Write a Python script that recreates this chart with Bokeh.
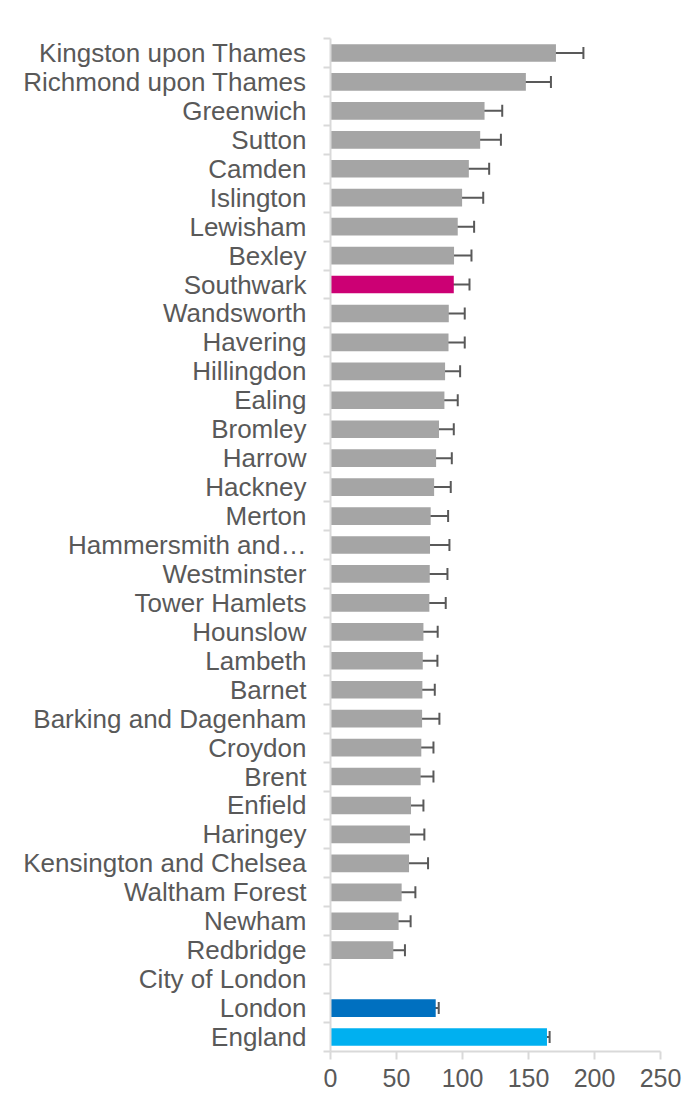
from bokeh.plotting import figure
from bokeh.models import Range1d, FixedTicker, Whisker, ColumnDataSource, TeeHead
from bokeh.embed import file_html
from bokeh.resources import INLINE

NAN = float("nan")

areas = [
    "Kingston upon Thames", "Richmond upon Thames", "Greenwich", "Sutton", "Camden",
    "Islington", "Lewisham", "Bexley", "Southwark", "Wandsworth", "Havering",
    "Hillingdon", "Ealing", "Bromley", "Harrow", "Hackney", "Merton",
    "Hammersmith and\u2026", "Westminster", "Tower Hamlets", "Hounslow", "Lambeth",
    "Barnet", "Barking and Dagenham", "Croydon", "Brent", "Enfield", "Haringey",
    "Kensington and Chelsea", "Waltham Forest", "Newham", "Redbridge",
    "City of London", "London", "England",
]
values = [
    170.8, 148.0, 116.7, 113.4, 104.8, 99.7, 96.4, 93.6, 93.4, 89.6, 89.4,
    86.8, 86.3, 82.2, 80.0, 78.5, 75.9, 75.4, 75.2, 74.9, 70.4, 69.9,
    69.6, 69.4, 68.8, 68.3, 61.0, 60.2, 59.5, 53.9, 51.6, 47.6,
    NAN, 79.7, 164.0,
]
ci_low = [
    152.0, 130.9, 104.3, 99.2, 91.4, 85.8, 85.3, 81.7, 82.0, 78.5, 78.0,
    76.2, 76.9, 72.4, 69.6, 67.0, 64.5, 62.5, 63.0, 63.8, 60.5, 60.0,
    61.2, 57.7, 60.7, 59.7, 53.2, 50.6, 47.1, 45.0, 43.8, 40.0,
    NAN, 78.0, 162.3,
]
ci_high = [
    191.6, 167.0, 130.1, 129.1, 120.2, 115.7, 108.8, 106.8, 105.3, 101.7, 101.7,
    98.2, 96.4, 93.4, 91.9, 91.1, 89.1, 90.1, 88.6, 87.3, 81.2, 81.0,
    79.0, 82.5, 78.0, 78.0, 70.4, 71.1, 73.9, 64.3, 60.7, 56.4,
    NAN, 82.0, 166.0,
]
highlight = {"Southwark": "#CC0074", "London": "#0070C0", "England": "#00B0F0"}
base_color = "#A5A5A5"
xticks = [0, 50, 100, 150, 200, 250]

n = len(areas)
ypos = [n - 1 - i for i in range(n)]
colors = [highlight.get(a, base_color) for a in areas]

src = ColumnDataSource(dict(y=ypos, v=values, c=colors))
keep = [i for i in range(n) if ci_low[i] == ci_low[i]]
err_src = ColumnDataSource(dict(
    y=[ypos[i] for i in keep],
    lo=[ci_low[i] for i in keep],
    hi=[ci_high[i] for i in keep],
))

p = figure(
    width=683, height=1094,
    x_range=Range1d(0, 250), y_range=Range1d(-0.5, n - 0.5),
    min_border_left=330, min_border_right=23, min_border_top=38, min_border_bottom=43,
    output_backend="svg", toolbar_location=None,
)
p.outline_line_color = None
p.xgrid.visible = False
p.ygrid.visible = False

p.hbar(y="y", left=0, right="v", height=0.61, fill_color="c", line_color=None, source=src)

err_color = "#595959"
p.add_layout(Whisker(
    source=err_src, base="y", lower="lo", upper="hi", dimension="width",
    line_color=err_color, line_width=2,
    upper_head=TeeHead(size=12, line_color=err_color, line_width=2),
    lower_head=TeeHead(size=12, line_color=err_color, line_width=2),
))

axis_color = "#D9D9D9"
text_color = "#595959"

ya = p.yaxis[0]
ya.ticker = FixedTicker(ticks=ypos, minor_ticks=[k - 0.5 for k in range(n + 1)])
ya.major_label_overrides = {y: a for y, a in zip(ypos, areas)}
ya.major_tick_out = 0
ya.major_tick_in = 0
ya.major_tick_line_color = None
ya.minor_tick_out = 7
ya.minor_tick_in = 0
ya.minor_tick_line_color = axis_color
ya.minor_tick_line_width = 2
ya.axis_line_color = axis_color
ya.axis_line_width = 2
ya.major_label_standoff = 17
ya.major_label_text_font = "Liberation Sans"
ya.major_label_text_font_size = "26px"
ya.major_label_text_color = text_color

xa = p.xaxis[0]
xa.ticker = FixedTicker(ticks=xticks)
xa.major_tick_out = 8
xa.major_tick_in = 0
xa.major_tick_line_color = axis_color
xa.major_tick_line_width = 2
xa.minor_tick_line_color = None
xa.axis_line_color = axis_color
xa.axis_line_width = 2
xa.major_label_standoff = 9
xa.major_label_text_font = "Liberation Sans"
xa.major_label_text_font_size = "25px"
xa.major_label_text_color = text_color

open("out.html", "w").write(file_html(p, INLINE))
